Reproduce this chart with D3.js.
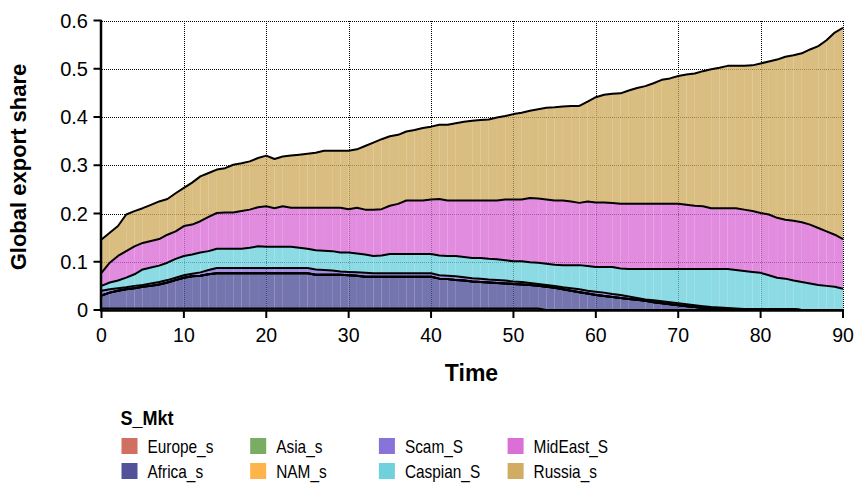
<!DOCTYPE html>
<html>
<head>
<meta charset="utf-8">
<script src="https://cdn.jsdelivr.net/npm/d3@7/dist/d3.min.js"></script>
<style>
  html, body { margin: 0; padding: 0; background: #fff; }
  svg { display: block; }
  text { font-family: "Liberation Sans", Arial, Helvetica, sans-serif; fill: #000; }
</style>
</head>
<body>
<svg id="chart" width="855" height="483"></svg>
<script>
// Time steps 0..90
const time = d3.range(0, 91);

// Export share by supplier market, one value per time step
const Europe_s = [
  0.003,0.003,0.003,0.003,0.003,0.003,0.003,0.003,0.003,0.003,
  0.003,0.003,0.003,0.003,0.003,0.003,0.003,0.003,0.003,0.003,
  0.003,0.003,0.003,0.003,0.003,0.003,0.003,0.003,0.003,0.003,
  0.003,0.003,0.003,0.003,0.003,0.003,0.003,0.003,0.003,0.003,
  0.003,0.003,0.003,0.003,0.003,0.003,0.003,0.003,0.003,0.003,
  0.003,0.003,0.003,0.003,0,0,0,0,0,0,
  0,0,0,0,0,0,0,0,0,0,
  0,0,0,0,0,0,0,0,0,0,
  0,0,0,0,0,0,0,0,0,0,
  0
];
const Africa_s = [
  0.027,0.033,0.037,0.040,0.042,0.045,0.047,0.050,0.054,0.059,
  0.064,0.067,0.068,0.071,0.073,0.073,0.073,0.073,0.073,0.073,
  0.073,0.073,0.073,0.073,0.073,0.073,0.070,0.070,0.070,0.070,
  0.069,0.068,0.066,0.066,0.066,0.066,0.066,0.066,0.066,0.066,
  0.066,0.062,0.061,0.059,0.058,0.056,0.055,0.054,0.053,0.052,
  0.051,0.050,0.049,0.047,0.048,0.046,0.043,0.040,0.037,0.034,
  0.031,0.029,0.027,0.025,0.023,0.021,0.019,0.016,0.014,0.012,
  0.010,0.008,0.006,0.004,0.003,0.003,0.002,0.001,0.001,0.001,
  0.001,0.001,0.001,0.001,0.001,0,0,0,0,0,
  0
];
const Asia_s = time.map(() => 0);
const NAM_s = time.map(() => 0);
const Scam_S = [
  0.010,0.007,0.005,0.004,0.005,0.004,0.005,0.005,0.005,0.005,
  0.005,0.005,0.007,0.009,0.011,0.011,0.011,0.011,0.011,0.011,
  0.011,0.011,0.011,0.011,0.011,0.011,0.011,0.010,0.009,0.007,
  0.007,0.007,0.008,0.007,0.007,0.007,0.007,0.007,0.007,0.007,
  0.007,0.007,0.007,0.008,0.007,0.007,0.007,0.006,0.006,0.006,
  0.005,0.005,0.004,0.004,0.004,0.004,0.004,0.005,0.006,0.006,
  0.007,0.007,0.006,0.006,0.005,0.004,0.003,0.004,0.004,0.004,
  0.004,0.004,0.004,0.004,0.003,0.002,0.002,0.002,0.001,0.001,
  0.001,0.001,0.001,0.001,0.001,0,0,0,0,0,
  0
];
const Caspian_S = [
  0.010,0.014,0.016,0.020,0.024,0.032,0.033,0.034,0.036,0.039,
  0.040,0.040,0.041,0.039,0.040,0.040,0.040,0.040,0.042,0.045,
  0.044,0.044,0.044,0.044,0.042,0.040,0.040,0.040,0.040,0.039,
  0.040,0.039,0.038,0.036,0.037,0.040,0.040,0.040,0.040,0.040,
  0.040,0.041,0.041,0.042,0.042,0.042,0.043,0.043,0.043,0.042,
  0.042,0.043,0.043,0.044,0.044,0.044,0.046,0.048,0.050,0.051,
  0.051,0.053,0.056,0.055,0.057,0.060,0.063,0.065,0.067,0.069,
  0.071,0.073,0.075,0.077,0.079,0.080,0.081,0.080,0.079,0.077,
  0.075,0.070,0.065,0.063,0.059,0.058,0.055,0.052,0.050,0.048,
  0.044
];
const MidEast_S = [
  0.027,0.041,0.051,0.055,0.058,0.055,0.055,0.055,0.058,0.057,
  0.062,0.062,0.065,0.071,0.074,0.075,0.075,0.078,0.079,0.081,
  0.084,0.080,0.084,0.081,0.083,0.085,0.088,0.089,0.090,0.093,
  0.090,0.095,0.093,0.096,0.096,0.100,0.104,0.111,0.111,0.111,
  0.113,0.117,0.115,0.115,0.117,0.119,0.119,0.121,0.122,0.126,
  0.128,0.128,0.133,0.133,0.133,0.133,0.134,0.132,0.129,0.134,
  0.134,0.134,0.133,0.134,0.135,0.135,0.135,0.135,0.135,0.135,
  0.135,0.133,0.131,0.130,0.126,0.126,0.126,0.128,0.127,0.126,
  0.124,0.126,0.124,0.122,0.124,0.124,0.122,0.118,0.113,0.108,
  0.103
];
const Russia_s = [
  0.069,0.062,0.062,0.076,0.073,0.072,0.075,0.078,0.074,0.079,
  0.079,0.087,0.093,0.091,0.090,0.092,0.099,0.099,0.100,0.102,
  0.105,0.102,0.103,0.108,0.110,0.112,0.114,0.118,0.118,0.118,
  0.121,0.121,0.132,0.139,0.145,0.144,0.143,0.143,0.146,0.150,
  0.151,0.154,0.157,0.160,0.163,0.165,0.167,0.168,0.172,0.173,
  0.177,0.180,0.181,0.185,0.190,0.193,0.195,0.198,0.201,0.207,
  0.218,0.223,0.226,0.229,0.235,0.240,0.244,0.250,0.257,0.260,
  0.265,0.270,0.274,0.280,0.288,0.291,0.295,0.295,0.298,0.302,
  0.310,0.317,0.328,0.338,0.343,0.350,0.363,0.377,0.396,0.419,
  0.438
];

const seriesNames = ["Europe_s", "Africa_s", "Asia_s", "NAM_s", "Scam_S", "Caspian_S", "MidEast_S", "Russia_s"];
const seriesValues = [Europe_s, Africa_s, Asia_s, NAM_s, Scam_S, Caspian_S, MidEast_S, Russia_s];
const seriesColors = ["#d06f62", "#51529a", "#7aac62", "#fdb54b", "#8873d9", "#6fd1dc", "#db6fd8", "#d0ad62"];

const xTicks = [0, 10, 20, 30, 40, 50, 60, 70, 80, 90];
const yTicks = [0, 0.1, 0.2, 0.3, 0.4, 0.5, 0.6];
const yTickLabels = ["0", "0.1", "0.2", "0.3", "0.4", "0.5", "0.6"];

const legendTitle = "S_Mkt";
const xTitle = "Time";
const yTitle = "Global export share";

// Build rows for the stack layout
const rows = time.map((t, i) => {
  const r = { t };
  seriesNames.forEach((n, k) => { r[n] = seriesValues[k][i]; });
  return r;
});

const svg = d3.select("#chart");
const x = d3.scaleLinear().domain([0, 90]).range([101.5, 843]);
const y = d3.scaleLinear().domain([0, 0.6]).range([310, 20.5]);
const color = d3.scaleOrdinal().domain(seriesNames).range(seriesColors);

// Dotted grid
const grid = svg.append("g").attr("shape-rendering", "crispEdges");
grid.selectAll("line.gy").data(yTicks.filter(v => v > 0)).join("line")
  .attr("x1", x(0)).attr("x2", x(90))
  .attr("y1", d => Math.round(y(d)) + 0.5).attr("y2", d => Math.round(y(d)) + 0.5)
  .attr("stroke", "#000").attr("stroke-width", 1).attr("stroke-dasharray", "1,1");
grid.selectAll("line.gx").data(xTicks.filter(v => v > 0)).join("line")
  .attr("y1", y(0)).attr("y2", y(0.6))
  .attr("x1", d => Math.round(x(d)) + 0.5).attr("x2", d => Math.round(x(d)) + 0.5)
  .attr("stroke", "#000").attr("stroke-width", 1).attr("stroke-dasharray", "1,1");

// Stacked areas, drawn one time step at a time
const stack = d3.stack().keys(seriesNames);
const layers = stack(rows);
const area = d3.area()
  .x(d => x(d.data.t))
  .y0(d => y(d[0]))
  .y1(d => y(d[1]));

const areaG = svg.append("g");
layers.forEach(layer => {
  const segs = d3.range(layer.length - 1).map(i => [layer[i], layer[i + 1]]);
  areaG.append("g")
    .selectAll("path").data(segs).join("path")
    .attr("d", area)
    .attr("fill", color(layer.key))
    .attr("fill-opacity", 0.8);
});

// Black outline along the top of every layer
const line = d3.line().x(d => x(d.data.t)).y(d => y(d[1]));
svg.append("g").selectAll("path").data(layers).join("path")
  .attr("d", line)
  .attr("fill", "none")
  .attr("stroke", "#000")
  .attr("stroke-width", 2)
  .attr("stroke-linejoin", "round");

// Axes
const axisG = svg.append("g");
axisG.append("line")
  .attr("x1", x(0) - 0.5).attr("x2", x(0) - 0.5)
  .attr("y1", y(0.6) - 0.5).attr("y2", y(0) + 1)
  .attr("stroke", "#000").attr("stroke-width", 2.5);
axisG.append("line")
  .attr("x1", x(0) - 1.5).attr("x2", x(90) + 1)
  .attr("y1", y(0) + 0.5).attr("y2", y(0) + 0.5)
  .attr("stroke", "#000").attr("stroke-width", 2.5);

axisG.selectAll("line.ty").data(yTicks).join("line")
  .attr("x1", x(0) - 8).attr("x2", x(0))
  .attr("y1", d => y(d)).attr("y2", d => y(d))
  .attr("stroke", "#000").attr("stroke-width", 2);
axisG.selectAll("text.ty").data(yTicks).join("text")
  .attr("x", 88).attr("y", d => y(d))
  .attr("dy", "0.36em")
  .attr("text-anchor", "end")
  .attr("font-size", 20)
  .text((d, i) => yTickLabels[i]);

axisG.selectAll("line.tx").data(xTicks).join("line")
  .attr("x1", d => x(d)).attr("x2", d => x(d))
  .attr("y1", y(0)).attr("y2", y(0) + 8)
  .attr("stroke", "#000").attr("stroke-width", 2);
axisG.selectAll("text.tx").data(xTicks).join("text")
  .attr("x", d => x(d)).attr("y", 341.5)
  .attr("text-anchor", "middle")
  .attr("font-size", 19.5)
  .text(d => d);

// Axis titles
svg.append("text")
  .attr("x", 471.5).attr("y", 381)
  .attr("text-anchor", "middle")
  .attr("font-size", 23).attr("font-weight", "bold")
  .text(xTitle);
svg.append("text")
  .attr("transform", "translate(26,167) rotate(-90)")
  .attr("text-anchor", "middle")
  .attr("font-size", 22).attr("font-weight", "bold")
  .text(yTitle);

// Legend, two rows filled column by column, slightly condensed lettering
const legend = svg.append("g");
legend.append("text")
  .attr("transform", "translate(120.5,425) scale(0.88,1)")
  .attr("font-size", 20.5).attr("font-weight", "bold")
  .text(legendTitle);
const items = legend.selectAll("g.item").data(seriesNames).join("g")
  .attr("transform", (d, i) => `translate(${121.5 + Math.floor(i / 2) * 128.7},${438 + (i % 2) * 25})`);
items.append("rect")
  .attr("width", 16).attr("height", 16)
  .attr("fill", d => color(d));
items.append("text")
  .attr("transform", "translate(26,14.5) scale(0.88,1)")
  .attr("font-size", 17.5)
  .text(d => d);
</script>
</body>
</html>
